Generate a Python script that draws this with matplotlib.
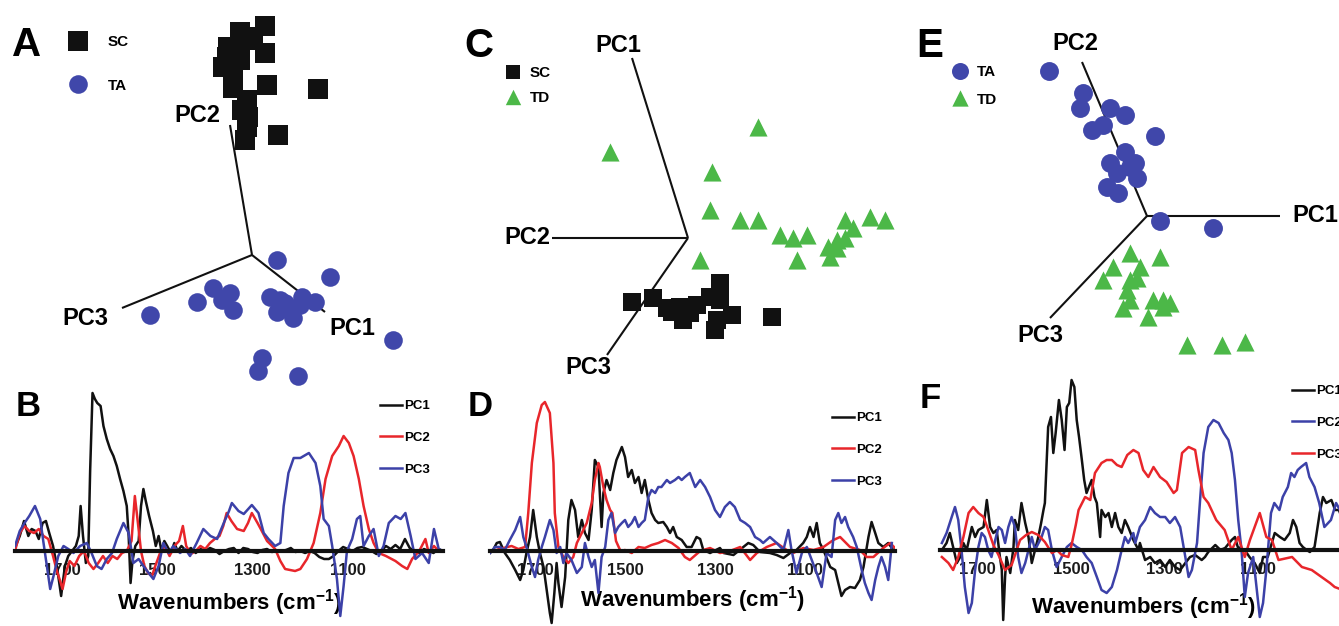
import numpy as np
import matplotlib
matplotlib.use("Agg")
import matplotlib.pyplot as plt

plt.rcParams['font.family'] = ['Liberation Sans', 'DejaVu Sans']
plt.rcParams['font.weight'] = 'bold'
plt.rcParams['mathtext.fontset'] = 'custom'
plt.rcParams['mathtext.rm'] = 'Liberation Sans:bold'
plt.rcParams['mathtext.bf'] = 'Liberation Sans:bold'
plt.rcParams['mathtext.default'] = 'bf'

# ---------------- score data (PC-projected scores, arbitrary units) ----------------
a_sc_x = [1.3, -1.2, -2.4, 1.3, -2.9, -1.2, 1.5, -1.9, -0.5, 6.6, -1.0, -0.5, 2.6, -0.7, -0.4, -1.9, -2.5, -0.5, -1.5, 0.1]
a_sc_y = [22.9, 22.3, 20.8, 20.2, 18.8, 19.5, 17.0, 16.7, 15.5, 16.6, 14.5, 12.8, 12.0, 11.5, 13.8, 17.8, 19.8, 21.5, 20.5, 21.8]
a_ta_x = [2.5, 7.8, -3.9, -2.2, -5.5, -1.9, 1.8, 3.3, 5.0, 6.3, 2.5, 4.1, -10.2, 14.1, 1.0, 0.6, 4.6, 3.8, 4.8, 2.8, -3.0]
a_ta_y = [-0.5, -2.2, -3.3, -3.8, -4.7, -5.5, -4.2, -4.8, -4.2, -4.7, -5.7, -6.3, -6.0, -8.5, -10.3, -11.6, -12.1, -5.5, -5.0, -4.5, -4.5]
a_axis_names = ['PC2', 'PC3', 'PC1']
a_axis_end_x = [-2.2, -13.0, 7.3]
a_axis_end_y = [13.0, -5.3, -5.7]

c_sc_x = [-5.6, -3.5, -2.1, -0.8, -0.5, 0.9, 2.2, 3.2, 3.2, 2.9, 2.7, 4.4, 8.4, -1.6, 0.2]
c_sc_y = [-6.4, -6.0, -7.0, -6.9, -8.2, -6.7, -5.9, -4.5, -6.2, -8.2, -9.2, -7.7, -7.9, -7.4, -7.5]
c_td_x = [7.0, -7.8, 2.4, 2.2, 5.2, 7.0, 9.2, 10.5, 11.9, 10.9, 14.0, 14.9, 15.7, 16.5, 15.7, 18.2, 19.7, 14.2, 1.2, 14.9]
c_td_y = [11.1, 8.6, 6.6, 2.8, 1.8, 1.8, 0.3, 0.0, 0.3, -2.2, -0.9, -1.0, 1.8, 1.0, 0.0, 2.1, 1.8, -1.9, -2.2, -0.2]
c_axis_names = ['PC1', 'PC2', 'PC3']
c_axis_end_x = [-5.6, -13.6, -8.1]
c_axis_end_y = [18.0, 0.0, -11.7]

e_ta_x = [-9.8, -6.4, -6.7, -3.7, -2.2, -5.5, -4.4, 0.8, -2.2, -1.2, -3.7, -3.0, -1.0, -4.0, -2.9, 1.3, 6.6, -1.7]
e_ta_y = [14.5, 12.3, 10.8, 10.8, 10.1, 8.6, 9.1, 8.0, 6.4, 5.3, 5.3, 4.3, 3.8, 2.9, 2.3, -0.5, -1.2, 4.9]
e_td_x = [-1.7, 1.3, -3.4, -0.7, -4.4, -1.7, -1.0, -2.0, -1.7, 0.6, 1.6, 2.3, -2.4, 0.1, 1.6, 4.0, 7.5, 9.8]
e_td_y = [-3.7, -4.1, -5.1, -5.1, -6.4, -6.4, -6.2, -7.4, -8.4, -8.4, -8.4, -8.7, -9.2, -10.1, -9.1, -12.9, -12.9, -12.6]
e_axis_names = ['PC2', 'PC1', 'PC3']
e_axis_end_x = [-6.5, 13.3, -9.7]
e_axis_end_y = [15.4, 0.0, -10.2]

# ---------------- loading spectra: (wavenumber, loading) ----------------
b_pc1 = [(1800,0.03),(1790,0.15),(1781,0.30),(1772,0.15),(1765,0.22),(1757,0.20),(1750,0.12),(1742,0.28),(1735,0.30),
         (1728,0.18),(1720,0.05),(1712,-0.15),(1703,-0.45),(1695,-0.15),(1688,-0.05),(1680,0.0),(1672,0.05),(1666,0.15),
         (1662,0.45),(1657,0.15),(1651,-0.12),(1646,-0.05),(1642,0.8),(1637,1.58),(1632,1.52),(1627,1.48),(1620,1.45),
         (1614,1.25),(1607,1.12),(1600,1.02),(1593,0.95),(1586,0.85),(1579,0.72),(1572,0.6),(1565,0.45),(1561,0.15),
         (1557,-0.32),(1553,-0.1),(1547,0.05),(1540,0.1),(1535,0.45),(1530,0.62),(1525,0.5),(1518,0.35),(1510,0.2),
         (1504,0.05),(1498,0.15),(1492,0.0),(1486,0.1),(1480,0.05),(1472,-0.02),(1465,0.08),(1458,0.0),(1450,0.05),
         (1440,0.0),(1430,0.03),(1420,-0.02),(1410,0.02),(1400,0.0),(1390,0.03),(1380,0.01),(1370,-0.03),(1360,0.0),
         (1350,0.02),(1340,0.03),(1330,-0.02),(1320,0.03),(1310,0.02),(1300,-0.01),(1290,-0.02),(1280,0.01),(1270,0.02),
         (1260,-0.01),(1250,0.0),(1240,0.0),(1230,0.01),(1220,0.03),(1210,-0.01),(1200,0.0),(1190,-0.02),(1180,0.0),
         (1170,-0.02),(1160,-0.06),(1150,-0.08),(1140,-0.08),(1130,-0.05),(1120,0.0),(1110,0.04),(1100,0.02),(1090,0.0),
         (1080,0.03),(1070,0.04),(1060,0.02),(1050,0.0),(1040,-0.03),(1030,0.0),(1020,0.05),(1010,0.02),(1000,0.06),
         (990,0.02),(980,0.12),(970,0.03),(960,0.0),(950,-0.02),(940,0.02),(930,0.0),(920,-0.02),(910,0.02),(900,0.0)]
b_pc2 = [(1800,0.0),(1790,0.18),(1780,0.25),(1770,0.2),(1760,0.18),(1750,0.22),(1740,0.15),(1730,0.12),(1720,-0.05),
         (1712,-0.2),(1705,-0.3),(1700,-0.38),(1692,-0.2),(1685,-0.1),(1675,-0.15),(1665,-0.05),(1655,0.0),(1645,-0.12),
         (1635,-0.18),(1625,-0.12),(1615,-0.05),(1605,-0.12),(1595,-0.05),(1585,-0.08),(1575,-0.02),(1565,0.0),(1555,0.1),
         (1548,0.55),(1542,0.3),(1535,0.0),(1528,-0.15),(1520,-0.22),(1512,-0.25),(1505,-0.15),(1495,-0.02),(1485,0.05),
         (1475,-0.05),(1465,0.05),(1455,0.1),(1447,0.25),(1440,0.05),(1430,-0.03),(1420,0.0),(1410,0.05),(1400,0.02),
         (1390,0.08),(1380,0.12),(1370,0.15),(1362,0.25),(1355,0.38),(1345,0.3),(1333,0.22),(1319,0.2),(1310,0.28),
         (1302,0.38),(1290,0.28),(1281,0.2),(1270,0.1),(1253,0.02),(1242,-0.1),(1232,-0.18),(1211,-0.2),(1200,-0.18),
         (1186,-0.08),(1172,0.08),(1158,0.38),(1147,0.72),(1133,0.95),(1119,1.05),(1109,1.15),(1098,1.08),(1088,0.95),
         (1077,0.72),(1067,0.45),(1056,0.22),(1046,0.08),(1035,-0.02),(1020,-0.05),(1000,-0.1),(986,-0.15),(975,-0.18),
         (965,-0.08),(950,0.0),(937,0.12),(930,-0.02),(919,0.05),(909,0.0),(900,0.0)]
b_pc3 = [(1800,0.05),(1790,0.2),(1780,0.28),(1770,0.35),(1758,0.45),(1747,0.32),(1740,0.08),(1733,-0.15),(1726,-0.38),
         (1719,-0.25),(1709,-0.05),(1698,0.05),(1688,0.02),(1677,-0.02),(1663,0.05),(1649,0.08),(1639,-0.02),(1628,-0.15),
         (1618,-0.18),(1607,-0.08),(1596,-0.02),(1586,0.12),(1572,0.28),(1561,0.18),(1551,-0.12),(1540,-0.08),(1530,-0.15),
         (1519,-0.22),(1509,-0.28),(1498,-0.15),(1488,0.08),(1477,-0.02),(1467,0.05),(1453,-0.02),(1442,0.02),(1432,-0.05),
         (1418,0.08),(1404,0.22),(1389,0.15),(1375,0.12),(1361,0.28),(1350,0.4),(1344,0.48),(1330,0.4),(1319,0.37),
         (1302,0.46),(1288,0.38),(1277,0.18),(1267,0.12),(1253,0.05),(1242,0.08),(1235,0.45),(1225,0.78),(1214,0.93),
         (1200,0.93),(1182,0.98),(1168,0.88),(1158,0.65),(1151,0.32),(1140,0.25),(1133,0.05),(1123,-0.28),(1116,-0.65),
         (1109,-0.35),(1102,0.0),(1091,0.12),(1081,0.32),(1074,0.35),(1067,0.05),(1056,0.15),(1046,0.22),(1035,-0.05),
         (1025,0.05),(1014,0.28),(1000,0.35),(989,0.32),(979,0.38),(968,0.15),(958,-0.08),(944,-0.02),(930,-0.12),
         (919,0.22),(909,0.02),(900,0.0)]

d_pc1 = [(1800,-0.02),(1793,0.01),(1785,0.08),(1778,0.09),(1767,-0.02),(1756,-0.09),(1744,-0.19),(1733,-0.29),
         (1726,-0.19),(1719,-0.02),(1711,0.14),(1704,0.41),(1696,0.14),(1689,-0.02),(1681,-0.16),(1674,-0.39),
         (1667,-0.62),(1663,-0.72),(1657,-0.42),(1652,-0.12),(1648,-0.32),(1641,-0.56),(1633,-0.26),(1626,0.31),
         (1619,0.51),(1611,0.41),(1604,0.14),(1596,0.31),(1589,0.18),(1581,0.11),(1574,0.41),(1567,0.91),(1559,0.84),
         (1552,0.24),(1548,0.58),(1541,0.71),(1533,0.61),(1526,0.78),(1519,0.91),(1507,1.04),(1500,0.94),(1493,0.74),
         (1485,0.81),(1478,0.68),(1470,0.74),(1463,0.58),(1456,0.71),(1448,0.51),(1441,0.38),(1433,0.31),(1426,0.28),
         (1415,0.29),(1407,0.24),(1400,0.18),(1393,0.24),(1385,0.14),(1374,0.11),(1363,0.04),(1352,0.04),(1341,0.14),
         (1333,0.12),(1326,0.01),(1311,-0.02),(1289,0.03),(1281,-0.02),(1259,-0.04),(1237,0.04),(1226,0.08),(1215,0.06),
         (1200,-0.01),(1178,-0.02),(1163,-0.04),(1148,-0.07),(1133,-0.02),(1119,0.01),(1104,0.08),(1096,0.14),
         (1089,0.24),(1081,0.14),(1074,0.28),(1067,0.08),(1059,0.01),(1044,-0.16),(1033,-0.19),(1026,-0.32),
         (1019,-0.45),(1011,-0.39),(1000,-0.36),(989,-0.37),(978,-0.29),(970,-0.16),(959,0.14),(952,0.29),(944,0.18),
         (937,0.08),(926,0.04),(915,0.08),(904,0.01)]
d_pc2 = [(1800,0.0),(1790,0.0),(1780,0.02),(1770,0.03),(1752,0.05),(1737,0.02),(1722,0.04),(1715,0.38),(1707,0.88),
         (1696,1.28),(1685,1.46),(1678,1.49),(1667,1.38),(1659,0.88),(1656,0.38),(1648,0.04),(1637,-0.06),(1626,-0.12),
         (1615,-0.06),(1607,0.08),(1596,0.18),(1585,0.28),(1574,0.48),(1567,0.71),(1559,0.88),(1556,0.84),(1548,0.64),
         (1541,0.51),(1533,0.41),(1528,0.38),(1520,0.1),(1510,0.0),(1500,0.01),(1485,-0.02),(1470,0.04),(1456,0.03),
         (1441,0.06),(1426,0.08),(1411,0.11),(1396,0.08),(1381,0.03),(1367,-0.06),(1356,-0.09),(1333,0.0),(1311,0.03),
         (1289,-0.02),(1267,0.0),(1244,0.04),(1222,-0.09),(1207,-0.02),(1185,0.04),(1163,0.08),(1141,0.01),(1126,-0.02),
         (1104,0.03),(1081,0.01),(1059,0.04),(1037,0.11),(1022,0.14),(1000,0.04),(978,0.01),(963,-0.06),(948,-0.06),
         (926,0.03),(911,0.08),(900,0.03)]
d_pc3 = [(1800,-0.02),(1789,0.04),(1778,0.04),(1767,0.01),(1756,0.11),(1744,0.21),(1733,0.34),(1726,0.14),(1719,0.04),
         (1707,-0.16),(1700,-0.26),(1693,-0.09),(1685,0.04),(1678,0.14),(1667,0.31),(1659,0.21),(1652,-0.02),(1644,0.04),
         (1637,-0.12),(1630,-0.02),(1619,-0.09),(1607,-0.22),(1596,-0.16),(1589,0.08),(1581,-0.06),(1574,-0.16),
         (1567,-0.09),(1559,-0.42),(1552,-0.06),(1544,0.04),(1537,0.31),(1530,0.38),(1522,0.18),(1515,0.24),(1507,0.28),
         (1500,0.31),(1493,0.24),(1485,0.28),(1478,0.34),(1470,0.24),(1463,0.28),(1456,0.31),(1448,0.54),(1441,0.61),
         (1433,0.58),(1426,0.64),(1419,0.64),(1407,0.71),(1400,0.68),(1389,0.71),(1381,0.74),(1374,0.71),(1367,0.74),
         (1356,0.78),(1344,0.64),(1333,0.71),(1322,0.64),(1311,0.54),(1300,0.41),(1289,0.34),(1278,0.44),(1267,0.49),
         (1256,0.44),(1244,0.31),(1233,0.28),(1222,0.24),(1211,0.14),(1200,0.11),(1193,0.08),(1178,0.14),(1163,0.08),
         (1148,0.01),(1137,0.21),(1130,0.01),(1119,-0.22),(1107,-0.02),(1096,0.04),(1085,-0.09),(1074,-0.22),
         (1063,-0.36),(1052,-0.02),(1041,-0.06),(1033,0.31),(1026,0.38),(1019,0.28),(1011,0.34),(1004,0.24),(993,0.14),
         (985,0.04),(974,-0.19),(967,-0.32),(959,-0.42),(952,-0.49),(944,-0.29),(937,-0.16),(930,-0.06),(922,-0.16),
         (915,-0.29),(907,0.08)]

f_pc1 = [(1776,0.0),(1766,0.07),(1759,0.17),(1752,0.03),(1744,-0.13),(1737,-0.07),(1730,0.07),(1723,0.0),(1712,0.23),
         (1705,0.13),(1698,0.2),(1687,0.23),(1680,0.5),(1673,0.23),(1666,0.17),(1659,0.2),(1652,-0.07),(1648,-0.2),
         (1645,-0.7),(1641,-0.27),(1638,-0.07),(1630,-0.23),(1623,0.03),(1620,0.3),(1613,0.2),(1606,0.47),(1598,0.27),
         (1591,0.13),(1584,-0.13),(1577,0.0),(1570,0.13),(1564,0.27),(1559,0.4),(1556,0.47),(1549,1.23),(1543,1.33),
         (1538,0.97),(1533,1.17),(1526,1.5),(1520,1.3),(1514,1.0),(1509,1.43),(1504,1.47),(1499,1.7),(1493,1.63),
         (1488,1.3),(1483,1.13),(1477,0.9),(1472,0.7),(1467,0.57),(1462,0.63),(1456,0.7),(1450,0.53),(1445,0.47),
         (1438,0.13),(1435,0.4),(1427,0.33),(1420,0.37),(1413,0.23),(1406,0.37),(1399,0.23),(1392,0.17),(1385,0.3),
         (1378,0.23),(1367,0.1),(1356,0.0),(1353,0.07),(1342,-0.1),(1331,-0.07),(1321,-0.13),(1310,-0.1),(1299,-0.17),
         (1289,-0.1),(1278,-0.17),(1267,-0.2),(1256,-0.13),(1246,-0.07),(1235,-0.05),(1221,-0.1),(1214,-0.07),
         (1207,-0.02),(1192,0.05),(1181,0.0),(1171,0.02),(1157,0.1),(1150,0.13),(1144,0.03),(1129,0.0),(1119,-0.07),
         (1108,-0.13),(1097,-0.23),(1090,-0.07),(1080,-0.07),(1065,0.17),(1054,0.13),(1044,0.1),(1033,0.17),(1026,0.3),
         (1019,0.23),(1012,0.07),(1005,0.03),(997,0.0),(990,-0.02),(980,0.03),(969,0.37),(962,0.53),(955,0.47),
         (944,0.5),(936,0.4),(928,0.4),(920,0.3),(910,0.2)]
f_pc2 = [(1776,0.07),(1766,0.17),(1755,0.33),(1748,0.43),(1741,0.3),(1734,0.0),(1727,-0.37),(1719,-0.63),(1712,-0.53),
         (1705,-0.2),(1698,0.03),(1691,0.17),(1684,0.13),(1677,0.0),(1670,-0.07),(1662,0.1),(1655,0.23),(1648,0.2),
         (1641,0.07),(1634,0.23),(1627,0.33),(1620,0.23),(1613,-0.07),(1606,-0.23),(1598,-0.13),(1591,0.0),(1584,0.13),
         (1577,0.0),(1563,0.13),(1556,0.23),(1549,0.2),(1541,0.0),(1531,-0.17),(1520,-0.07),(1509,0.03),(1499,0.07),
         (1488,0.03),(1477,0.0),(1467,-0.07),(1456,-0.13),(1445,-0.27),(1435,-0.4),(1424,-0.43),(1413,-0.37),
         (1402,-0.2),(1392,0.0),(1385,0.13),(1378,0.07),(1367,0.17),(1363,0.07),(1353,0.23),(1342,0.3),(1331,0.43),
         (1321,0.37),(1310,0.33),(1299,0.33),(1289,0.27),(1278,0.33),(1267,0.23),(1256,-0.07),(1249,-0.27),(1242,-0.2),
         (1231,0.07),(1224,0.53),(1217,0.97),(1207,1.23),(1196,1.3),(1185,1.27),(1174,1.17),(1164,1.1),(1157,0.97),
         (1150,0.7),(1143,0.3),(1136,0.0),(1129,-0.47),(1122,-0.23),(1111,-0.07),(1104,-0.37),(1097,-0.67),
         (1090,-0.53),(1083,-0.2),(1073,0.37),(1066,0.47),(1055,0.4),(1048,0.53),(1037,0.63),(1030,0.77),(1023,0.73),
         (1016,0.8),(1009,0.83),(998,0.87),(991,0.73),(980,0.63),(970,0.47),(959,0.23),(945,0.3),(934,0.47),
         (920,0.35),(900,0.2)]
f_pc3 = [(1776,-0.07),(1762,-0.13),(1752,-0.2),(1741,-0.07),(1730,0.13),(1719,0.37),(1709,0.43),(1698,0.37),
         (1687,0.33),(1677,0.2),(1666,0.05),(1655,-0.05),(1641,-0.2),(1627,-0.15),(1609,0.1),(1596,0.15),(1584,0.18),
         (1570,0.15),(1556,0.08),(1541,-0.03),(1530,0.0),(1520,-0.05),(1506,-0.07),(1499,0.05),(1490,0.25),(1484,0.4),
         (1470,0.53),(1459,0.5),(1449,0.77),(1435,0.87),(1424,0.9),(1413,0.9),(1402,0.85),(1392,0.83),(1380,0.95),
         (1367,1.0),(1356,0.97),(1346,0.8),(1335,0.73),(1324,0.83),(1310,0.73),(1296,0.68),(1281,0.57),(1274,0.6),
         (1263,0.97),(1249,1.03),(1235,1.0),(1228,0.8),(1217,0.53),(1207,0.47),(1190,0.3),(1172,0.2),(1157,0.0),
         (1143,0.13),(1129,-0.07),(1118,0.1),(1097,0.37),(1083,0.13),(1071,0.1),(1057,-0.1),(1028,-0.07),(1007,-0.17),
         (986,-0.2),(965,-0.27),(947,-0.33),(937,-0.37),(920,-0.4),(900,-0.4)]

tick_wn = [1700, 1500, 1300, 1100]
pc_names = ['PC1', 'PC2', 'PC3']

# ---------------- styles ----------------
BLACK = '#111111'
RED = '#e8262b'
BLUE = '#3c41a8'
PT_BLUE = '#4047aa'
GREEN = '#4cb848'

W, H = 1339, 626
fig = plt.figure(figsize=(W / 100, H / 100), dpi=100)
fig.patch.set_facecolor('white')
S = 10.0  # px per score unit


def fx(px):
    return px / W


def fy(py):
    return 1 - py / H


def score_axes(x0, y0, x1, y1, ox, oy):
    ax = fig.add_axes([fx(x0), fy(y1), (x1 - x0) / W, (y1 - y0) / H])
    ax.set_xlim((x0 - ox) / S, (x1 - ox) / S)
    ax.set_ylim((oy - y1) / S, (oy - y0) / S)
    ax.axis('off')
    return ax


def draw_pc_axes(ax, ex, ey):
    for x, y in zip(ex, ey):
        ax.plot([0, x], [0, y], color=BLACK, lw=1.5, solid_capstyle='butt', zorder=1)


def score_legend(ax, handles, labels, left, top, hl, tp, ls, ms=1.0):
    ax.legend(handles, labels, loc='upper left', bbox_to_anchor=(fx(left), fy(top)),
              bbox_transform=fig.transFigure, frameon=False, borderpad=0, borderaxespad=0,
              handlelength=hl, handletextpad=tp, labelspacing=ls, scatterpoints=1,
              scatteryoffsets=[0.5], markerscale=ms, prop={'size': 11, 'weight': 'bold'})


PCFS = 17
# ---- Panel A ----
axA = score_axes(0, 0, 450, 392, 252, 255)
draw_pc_axes(axA, a_axis_end_x, a_axis_end_y)
hA1 = axA.scatter(a_sc_x, a_sc_y, marker='s', s=215, color=BLACK, linewidths=0, zorder=3, clip_on=False)
hA2 = axA.scatter(a_ta_x, a_ta_y, marker='o', s=180, color=PT_BLUE, linewidths=0, zorder=3, clip_on=False)
axA.text(-5.5, 14.0, 'PC2', ha='center', va='center', fontsize=PCFS, fontweight='bold')
axA.text(-16.7, -6.3, 'PC3', ha='center', va='center', fontsize=PCFS, fontweight='bold')
axA.text(10.0, -7.3, 'PC1', ha='center', va='center', fontsize=PCFS, fontweight='bold')
score_legend(axA, [hA1, hA2], ['SC', 'TA'], 66, 35, 1.6, 1.15, 1.95)

# ---- Panel C ----
axC = score_axes(450, 0, 900, 392, 688, 238)
draw_pc_axes(axC, c_axis_end_x, c_axis_end_y)
hC1 = axC.scatter(c_sc_x, c_sc_y, marker='s', s=150, color=BLACK, linewidths=0, zorder=3, clip_on=False)
hC2 = axC.scatter(c_td_x, c_td_y, marker='^', s=170, color=GREEN, linewidths=0, zorder=3, clip_on=False)
axC.text(-7.0, 19.3, 'PC1', ha='center', va='center', fontsize=PCFS, fontweight='bold')
axC.text(-13.8, 0.0, 'PC2', ha='right', va='center', fontsize=PCFS, fontweight='bold')
axC.text(-10.0, -12.9, 'PC3', ha='center', va='center', fontsize=PCFS, fontweight='bold')
score_legend(axC, [hC1, hC2], ['SC', 'TD'], 505, 66, 1.0, 0.6, 0.72, ms=0.85)

# ---- Panel E ----
axE = score_axes(900, 0, 1339, 392, 1147, 216)
draw_pc_axes(axE, e_axis_end_x, e_axis_end_y)
hE1 = axE.scatter(e_ta_x, e_ta_y, marker='o', s=185, color=PT_BLUE, linewidths=0, zorder=3, clip_on=False)
hE2 = axE.scatter(e_td_x, e_td_y, marker='^', s=170, color=GREEN, linewidths=0, zorder=3, clip_on=False)
axE.text(-7.2, 17.3, 'PC2', ha='center', va='center', fontsize=PCFS, fontweight='bold')
axE.text(14.5, 0.0, 'PC1', ha='left', va='center', fontsize=PCFS, fontweight='bold')
axE.text(-10.7, -11.9, 'PC3', ha='center', va='center', fontsize=PCFS, fontweight='bold')
score_legend(axE, [hE1, hE2], ['TA', 'TD'], 952, 65, 1.0, 0.6, 0.9, ms=0.9)


# ---------------- spectra ----------------
def spectrum_axes(x0, x1, wn_left, wn_right, zero_py, y0=372, y1=626, scale=100.0):
    ax = fig.add_axes([fx(x0), fy(y1), (x1 - x0) / W, (y1 - y0) / H])
    ax.set_xlim(wn_left, wn_right)
    ax.set_ylim((zero_py - y1) / scale, (zero_py - y0) / scale)
    ax.patch.set_alpha(0)
    for side in ['top', 'right', 'left']:
        ax.spines[side].set_visible(False)
    ax.spines['bottom'].set_position(('data', 0))
    ax.spines['bottom'].set_linewidth(3.0)
    ax.spines['bottom'].set_color(BLACK)
    ax.set_yticks([])
    ax.set_xticks(tick_wn)
    ax.set_xticklabels([str(t) for t in tick_wn])
    ax.tick_params(axis='x', length=0, pad=8.5, labelsize=12, labelcolor='#1a1a1a')
    for lab in ax.get_xticklabels():
        lab.set_fontweight('bold')
    return ax


def plot_spectra(ax, series, colors, xlabel_frac, xlabel_py, y0, y1, leg_left, leg_top):
    handles = []
    for data, c, name in zip(series, colors, pc_names):
        arr = np.array(data)
        h, = ax.plot(arr[:, 0], arr[:, 1], color=c, lw=1.8, label=name, zorder=2)
        handles.append(h)
    ax.text(xlabel_frac, (y1 - xlabel_py) / (y1 - y0), 'Wavenumbers (cm$^{-1}$)',
            transform=ax.transAxes, ha='center', va='center', fontsize=16, fontweight='bold', zorder=1)
    ax.legend(handles, pc_names, loc='upper left', bbox_to_anchor=(fx(leg_left), fy(leg_top)),
              bbox_transform=fig.transFigure, frameon=False, borderpad=0, borderaxespad=0,
              handlelength=1.65, handletextpad=0.15, labelspacing=1.48,
              prop={'size': 9.5, 'weight': 'bold'})


axB = spectrum_axes(15, 443, 1800, 900, 551)
plot_spectra(axB, [b_pc1, b_pc2, b_pc3], [BLACK, RED, BLUE], 0.5, 603, 372, 626, 380, 400)

axD = spectrum_axes(490, 895, 1800, 900, 551)
plot_spectra(axD, [d_pc1, d_pc2, d_pc3], [BLACK, RED, BLUE], 0.5, 600, 372, 626, 832, 412)

axF = spectrum_axes(940, 1352, 1780, 900, 550)
plot_spectra(axF, [f_pc1, f_pc2, f_pc3], [BLACK, BLUE, RED], 0.493, 607, 372, 626, 1292, 385)

# ---------------- panel letters ----------------
letters = [('A', 27, 45, 29), ('C', 479, 46, 29), ('E', 930, 46, 29),
           ('B', 28, 407, 25), ('D', 480, 406, 25), ('F', 930, 399, 25)]
for txt, x, y, fs in letters:
    fig.text(fx(x), fy(y), txt, ha='center', va='center', fontsize=fs, fontweight='bold', color='black')

fig.savefig('out.png', dpi=100, facecolor='white')
